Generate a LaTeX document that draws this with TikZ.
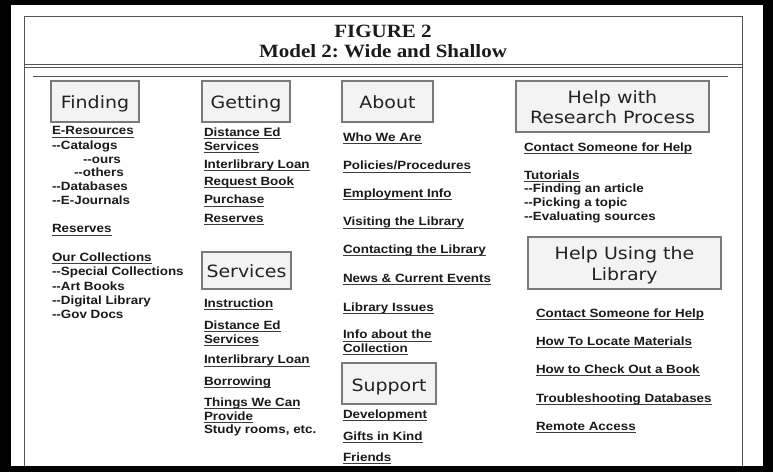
\documentclass[tikz,border=0pt]{standalone}
\usepackage{fontspec}
\newfontfamily\bodyfont{Liberation Sans}[FakeStretch=1.12]
\newfontfamily\headfont{DejaVu Sans}[FakeStretch=1.12]
\newfontfamily\titlefont{Liberation Serif}[FakeStretch=1.12]
\definecolor{txt}{HTML}{1A1A1A}
\definecolor{htxt}{HTML}{222222}
\definecolor{boxc}{HTML}{7A7A7A}
\definecolor{boxf}{HTML}{F3F3F3}
\definecolor{framec}{HTML}{555555}
\newcommand\dsh{-\kern0pt-}
\newcommand\lnk[4]{\node[lk] (#1) at (#2,#3) {#4};
  \draw[ul] ([yshift=-2bp]#1.base west) -- ([yshift=-2bp]#1.base east);}
\newcommand\pln[4]{\node[lk] (#1) at (#2,#3) {#4};}
\frenchspacing
\tikzset{
  lk/.style={anchor=base west, inner sep=0pt, outer sep=0pt, text=txt,
    font=\bodyfont\bfseries\fontsize{12}{14}\selectfont},
  ul/.style={draw=txt!85, line width=0.9bp},
  hbox/.style={draw=boxc, fill=boxf, line width=1.1bp, inner sep=0pt},
  htext/.style={anchor=base, inner sep=0pt, text=htxt,
    font=\headfont\fontsize{17}{20}\selectfont},
  ttext/.style={anchor=base, inner sep=0pt, text=txt,
    font=\titlefont\bfseries\fontsize{18.8}{22}\selectfont},
  framel/.style={draw=framec, line width=0.9bp}
}
\begin{document}
\begin{tikzpicture}[x=1bp,y=-1bp]
\useasboundingbox (0,0) rectangle (773,472);
\fill[black] (0,0) rectangle (773,472);
\fill[white] (11,5) rectangle (763,466);
% frame
\draw[framel] (24,466) -- (24,16) -- (742,16) -- (742,466);
\draw[framel] (24,64) -- (742,64);
\draw[framel] (24,67) -- (742,67);
\draw[framel] (33,76) -- (728,76);
% title
\node[ttext] (t1) at (383,37.3) {FIGURE 2};
\node[ttext] (t2) at (383,57.5) {Model 2: Wide and Shallow};
% header boxes
\node[hbox, minimum width=88bp, minimum height=41bp] (finding) at (95,101.5) {};
\node[htext] (findingt) at (95,108.3) {Finding};
\node[hbox, minimum width=88bp, minimum height=41bp] (getting) at (246,101.5) {};
\node[htext] (gettingt) at (246,108.3) {Getting};
\node[hbox, minimum width=91bp, minimum height=41bp] (about) at (387.5,101.5) {};
\node[htext] (aboutt) at (387.5,108.3) {About};
\node[hbox, minimum width=193bp, minimum height=51bp] (research) at (612.5,106.5) {};
\node[htext] (researcht1) at (612.5,104) {Help with};
\node[htext] (researcht2) at (612.5,123.3) {Research Process};
\node[hbox, minimum width=193bp, minimum height=52bp] (using) at (624.5,263) {};
\node[htext] (usingt1) at (624.5,259.8) {Help Using the};
\node[htext] (usingt2) at (624.5,280.5) {Library};
\node[hbox, minimum width=89bp, minimum height=37bp] (services) at (246.5,270.5) {};
\node[htext] (servicest) at (246.5,277.3) {Services};
\node[hbox, minimum width=94bp, minimum height=41bp] (support) at (389,383.5) {};
\node[htext] (supportt) at (389,391) {Support};
% column 1
\lnk{a1}{52}{135}{E-Resources}
\pln{a2}{52}{150}{\dsh Catalogs}
\pln{a3}{83}{163.5}{\dsh ours}
\pln{a4}{74}{177}{\dsh others}
\pln{a5}{52}{191}{\dsh Databases}
\pln{a6}{52}{205}{\dsh E-Journals}
\lnk{a7}{52}{233}{Reserves}
\lnk{a8}{52}{261.7}{Our Collections}
\pln{a9}{52}{276}{\dsh Special Collections}
\pln{a10}{52}{290.5}{\dsh Art Books}
\pln{a11}{52}{305}{\dsh Digital Library}
\pln{a12}{52}{318.5}{\dsh Gov Docs}
% column 2
\lnk{b1}{204}{136.7}{Distance Ed}
\lnk{b2}{204}{150.7}{Services}
\lnk{b3}{204}{168.3}{Interlibrary Loan}
\lnk{b4}{204}{185.7}{Request Book}
\lnk{b5}{204}{204}{Purchase}
\lnk{b6}{204}{222.7}{Reserves}
\lnk{b7}{204}{307.7}{Instruction}
\lnk{b8}{204}{329.3}{Distance Ed}
\lnk{b9}{204}{343.3}{Services}
\lnk{b10}{204}{364}{Interlibrary Loan}
\lnk{b11}{204}{385.7}{Borrowing}
\lnk{b12}{204}{406.7}{Things We Can}
\lnk{b13}{204}{420}{Provide\hspace{2bp}}
\pln{b14}{204}{433.3}{Study rooms, etc.}
% column 3
\lnk{c1}{343}{141.7}{Who We Are}
\lnk{c2}{343}{170}{Policies/Procedures}
\lnk{c3}{343}{197.3}{Employment Info}
\lnk{c4}{343}{226}{Visiting the Library}
\lnk{c5}{343}{253.3}{Contacting the Library}
\lnk{c6}{343}{282.7}{News \& Current Events}
\lnk{c7}{343}{311.7}{Library Issues}
\lnk{c8}{343}{339}{Info about the}
\lnk{c9}{343}{352.7}{Collection}
\lnk{c10}{343}{418.3}{Development}
\lnk{c11}{343}{440}{Gifts in Kind}
\lnk{c12}{343}{461}{Friends}
% column 4
\lnk{d1}{524}{151.7}{Contact Someone for Help}
\lnk{d2}{524}{179.3}{Tutorials}
\pln{d3}{524}{192.3}{\dsh Finding an article}
\pln{d4}{524}{206.7}{\dsh Picking a topic}
\pln{d5}{524}{221}{\dsh Evaluating sources}
\lnk{d6}{536}{317.3}{Contact Someone for Help}
\lnk{d7}{536}{345.7}{How To Locate Materials}
\lnk{d8}{536}{373.3}{How to Check Out a Book}
\lnk{d9}{536}{402.3}{Troubleshooting Databases}
\lnk{d10}{536}{430}{Remote Access}
\end{tikzpicture}
\end{document}
